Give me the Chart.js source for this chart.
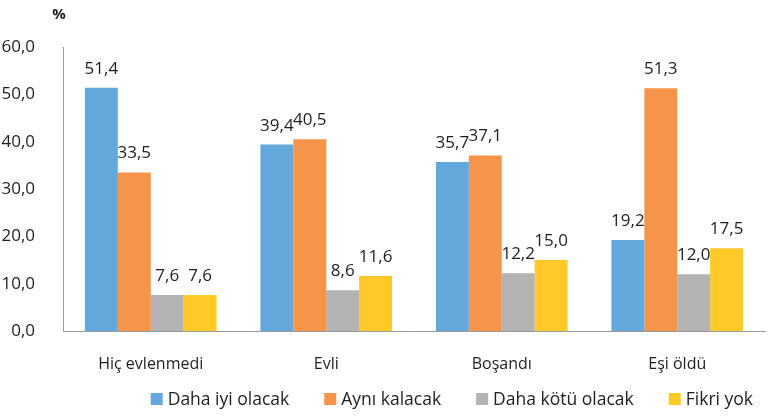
<!DOCTYPE html>
<html>
<head>
<meta charset="utf-8">
<script src="https://cdn.jsdelivr.net/npm/chart.js@4.4.0/dist/chart.umd.min.js"></script>
<style>
  html, body { margin: 0; padding: 0; background: #fff; }
  #wrap { width: 779px; height: 417px; }
</style>
</head>
<body>
<div id="wrap"><canvas id="grafico" width="779" height="417"></canvas></div>
<script>
// Kategoriler ve seriler
const kategoriler = ['Hiç evlenmedi', 'Evli', 'Boşandı', 'Eşi öldü'];
const seriAdlari = ['Daha iyi olacak', 'Aynı kalacak', 'Daha kötü olacak', 'Fikri yok'];
const dahaIyi = [51.4, 39.4, 35.7, 19.2];
const ayniKalacak = [33.5, 40.5, 37.1, 51.3];
const dahaKotu = [7.6, 8.6, 12.2, 12.0];
const fikriYok = [7.6, 11.6, 15.0, 17.5];
const yTicks = [0, 10, 20, 30, 40, 50, 60];
const renkler = ['#62A8DB', '#F6954A', '#B3B3B3', '#FFCA28'];

const FONT = '"Open Sans", "Noto Sans", sans-serif';
const fmt = v => v.toFixed(1).replace('.', ',');

// Çubuk değerleri, "%" başlığı ve lejant
const etiketler = {
    id: 'etiketler',
    afterDatasetsDraw(chart) {
        const ctx = chart.ctx;
        ctx.save();
        ctx.fillStyle = '#1e1e1e';
        ctx.font = '17px ' + FONT;
        ctx.textAlign = 'center';
        ctx.textBaseline = 'alphabetic';
        chart.data.datasets.forEach((ds, i) => {
            chart.getDatasetMeta(i).data.forEach((bar, j) => {
                ctx.fillText(fmt(ds.data[j]), bar.x, bar.y - 14);
            });
        });

        ctx.font = 'bold 15px ' + FONT;
        ctx.fillText('%', 59, 19);

        // lejant (sağa dayalı)
        ctx.font = '17.5px ' + FONT;
        ctx.textAlign = 'left';
        const kutu = 12, bosluk = 5, ara = 35;
        const genislikler = chart.data.datasets.map(ds => kutu + bosluk + ctx.measureText(ds.label).width);
        let x = 753 - genislikler.reduce((a, b) => a + b, 0) - ara * (genislikler.length - 1);
        chart.data.datasets.forEach((ds, i) => {
            ctx.fillStyle = ds.backgroundColor;
            ctx.fillRect(x, 393, kutu, kutu);
            ctx.fillStyle = '#1e1e1e';
            ctx.fillText(ds.label, x + kutu + bosluk, 405);
            x += genislikler[i] + ara;
        });
        ctx.restore();
    }
};

new Chart(document.getElementById('grafico'), {
    type: 'bar',
    data: {
        labels: kategoriler,
        datasets: [
            { label: seriAdlari[0], data: dahaIyi, backgroundColor: renkler[0] },
            { label: seriAdlari[1], data: ayniKalacak, backgroundColor: renkler[1] },
            { label: seriAdlari[2], data: dahaKotu, backgroundColor: renkler[2] },
            { label: seriAdlari[3], data: fikriYok, backgroundColor: renkler[3] }
        ]
    },
    options: {
        responsive: false,
        animation: false,
        layout: { padding: { top: 47, right: 14, left: 0, bottom: 0 } },
        datasets: { bar: { categoryPercentage: 0.75, barPercentage: 1.0 } },
        plugins: {
            legend: { display: false },
            tooltip: { enabled: false }
        },
        scales: {
            x: {
                grid: { display: false },
                border: { display: true, color: '#9a9a9a' },
                ticks: { color: '#1e1e1e', padding: 16, font: { family: FONT, size: 16 } },
                afterFit: s => { s.height = 86; }
            },
            y: {
                min: 0, max: 60,
                afterBuildTicks: s => { s.ticks = yTicks.map(v => ({ value: v })); },
                grid: { display: false },
                border: { display: true, color: '#9a9a9a' },
                ticks: {
                    color: '#1e1e1e', padding: 20, font: { family: FONT, size: 17 },
                    callback: v => fmt(v)
                },
                afterFit: s => { s.width = 63; }
            }
        }
    },
    plugins: [etiketler]
});
</script>
</body>
</html>
